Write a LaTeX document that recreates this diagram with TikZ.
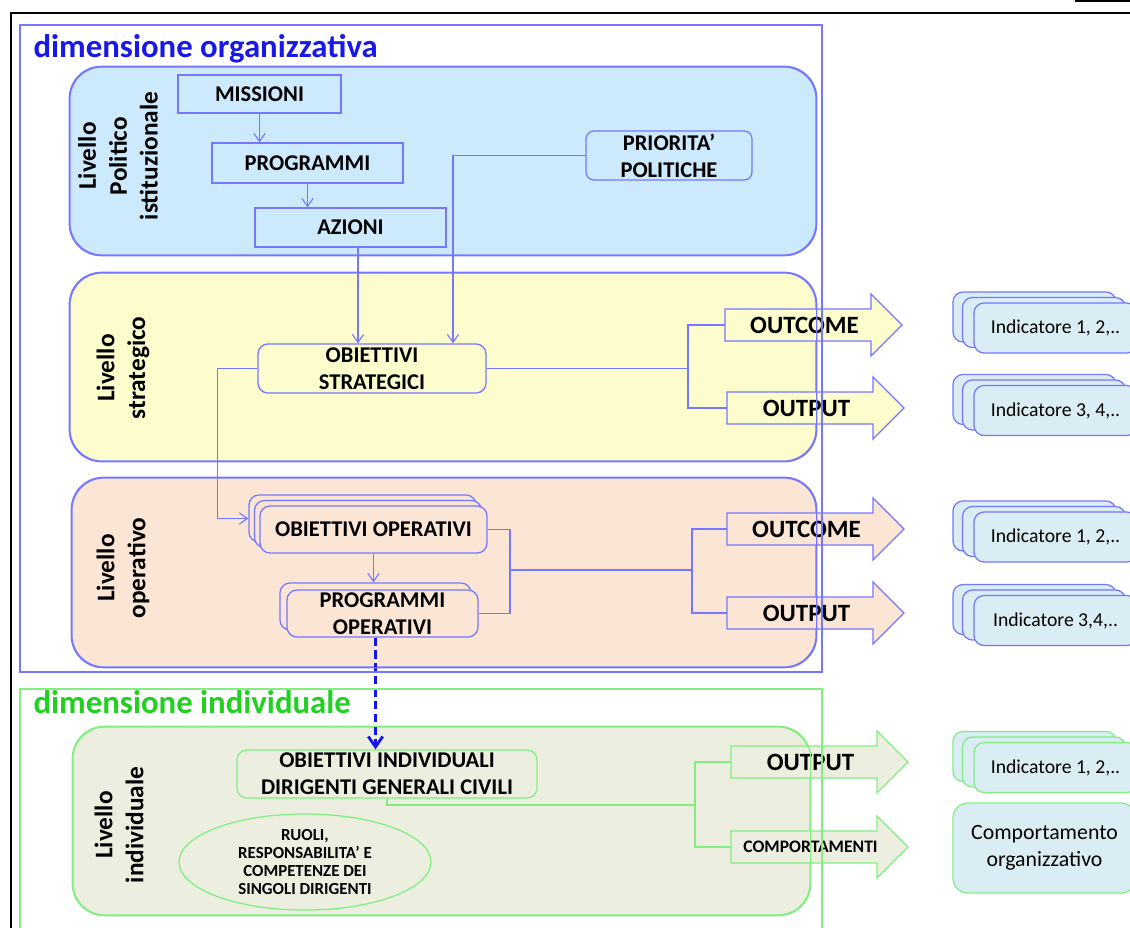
\documentclass[tikz,border=0pt]{standalone}
\usepackage{fontspec}
\setmainfont{Carlito}
\usetikzlibrary{positioning,calc,arrows.meta,shapes.geometric}

\definecolor{bluln}{RGB}{118,118,255}
\definecolor{grnln}{RGB}{130,238,130}
\definecolor{ttlblue}{RGB}{24,24,232}
\definecolor{ttlgreen}{RGB}{34,208,34}
\definecolor{dshblue}{RGB}{20,20,240}
\definecolor{lvlone}{RGB}{204,234,252}
\definecolor{lvltwo}{RGB}{253,252,204}
\definecolor{lvlthree}{RGB}{251,230,214}
\definecolor{lvlfour}{RGB}{236,238,224}
\definecolor{indfill}{RGB}{218,236,244}

\newcommand\ftitle{\fontsize{23.3}{27}\selectfont\bfseries}
\newcommand\fbx{\fontsize{16}{19.2}\selectfont\bfseries}
\newcommand\farr{\fontsize{17.7}{20}\selectfont\bfseries}
\newcommand\flvl{\fontsize{18}{22}\selectfont\bfseries}
\newcommand\find{\fontsize{14}{17}\selectfont}
\newcommand\fcomp{\fontsize{15.5}{19}\selectfont}
\newcommand\fell{\fontsize{12}{12.6}\selectfont\bfseries}
\newcommand\fsmall{\fontsize{12.5}{14}\selectfont\bfseries}

% big outline arrow: style, name, tail x, y, text
\newcommand\bigarrow[5]{%
  \draw[#1] (#3,#4-16) -- (#3+146,#4-16) -- (#3+146,#4-31) -- (#3+177,#4)
    -- (#3+146,#4+31) -- (#3+146,#4+16) -- (#3,#4+16) -- cycle;
  \coordinate (#2-t) at (#3,#4);
  \node[alab] (#2) at (#3+79.5,#4) {#5};}

% stack of three indicator cards: border colour, name, y, text
\newcommand\indstack[4]{%
  \node[ind, draw=#1] at (1034.5,#3-11) {};
  \node[ind, draw=#1] at (1044,#3-5.5) {};
  \node[ind, draw=#1] (#2) at (1055.5,#3) {#4};}

\begin{document}
\begin{tikzpicture}[x=0.025cm, y=-0.025cm, line width=0.8pt,
    >={Straight Barb[length=2mm,width=2.8mm]},
    lvl/.style={rectangle, rounded corners=0.8cm, line width=0.9pt, inner sep=0pt},
    box/.style={rectangle, draw=bluln, line width=0.9pt, inner sep=0pt, align=center, font=\fbx},
    rbox/.style={box, rounded corners=0.25cm},
    lbl/.style={rotate=90, align=center, font=\flvl},
    ind/.style={rectangle, rounded corners=0.25cm, fill=indfill, line width=0.9pt,
      minimum width=4.075cm, minimum height=1.25cm, font=\find},
    alab/.style={font=\farr, inner sep=0pt},
    dsh/.style={draw=dshblue, line width=2pt, dash pattern=on 6pt off 3pt}]
  \useasboundingbox (0,0) rectangle (1130,927);

  % page edge
  \draw[line width=2pt] (1130,13) -- (11,13) -- (11,935);
  \draw[line width=1pt] (1075,1) -- (1130,1);

  % levels
  \node[lvl, draw=bluln, fill=lvlone, minimum width=18.65cm, minimum height=4.7cm] (l1) at (443,161) {};
  \node[lvl, draw=bluln, fill=lvltwo, minimum width=18.65cm, minimum height=4.7cm] (l2) at (443,367) {};
  \node[lvl, draw=bluln, fill=lvlthree, minimum width=18.6cm, minimum height=4.725cm] (l3) at (444,572.5) {};
  \node[lvl, draw=grnln, fill=lvlfour, minimum width=18.425cm, minimum height=4.7cm] (l4) at (441.5,821) {};

  \node[anchor=base west, inner sep=0pt, font=\ftitle, text=ttlblue] (tdo) at (33,57) {dimensione organizzativa};
  \node[anchor=base west, inner sep=0pt, font=\ftitle, text=ttlgreen] (tdi) at (33,713) {dimensione individuale};

  \node[lbl] (l1t) at (118,156) {Livello\\Politico\\istituzionale};
  \node[lbl] (l2t) at (123,368) {Livello\\strategico};
  \node[lbl] (l3t) at (123,568) {Livello\\operativo};
  \node[lbl] (l4t) at (119,825) {Livello\\individuale};

  % political level
  \node[box, fill=lvlone, minimum width=4.075cm, minimum height=0.95cm] (miss) at (259.5,94) {MISSIONI};
  \node[box, fill=lvlone, minimum width=4.775cm, minimum height=1cm] (prog) at (307.5,163) {PROGRAMMI};
  \node[box, fill=lvlone, minimum width=4.775cm, minimum height=0.975cm] (az) at (350.5,227.5) {AZIONI};
  \node[rbox, rounded corners=0.2cm, fill=lvlone, minimum width=4.15cm, minimum height=1.225cm] (pri) at (669,155.5) {PRIORITA’\\POLITICHE};

  % strategic level
  \node[rbox, fill=lvltwo, minimum width=5.7cm, minimum height=1.225cm] (ost) at (372,368.5) {OBIETTIVI\\STRATEGICI};

  % operative level
  \node[rbox, fill=lvlthree, minimum width=5.675cm, minimum height=1.175cm] (obopb) at (362.5,518.5) {};
  \node[rbox, fill=lvlthree, minimum width=5.675cm, minimum height=1.175cm] at (368,524) {};
  \node[rbox, fill=lvlthree, minimum width=5.675cm, minimum height=1.175cm] (obop) at (373.5,529.5) {OBIETTIVI OPERATIVI};
  \node[rbox, fill=lvlthree, minimum width=4.775cm, minimum height=1.175cm] (propb) at (375.5,606.5) {};
  \node[rbox, fill=lvlthree, minimum width=4.775cm, minimum height=1.175cm] (prop) at (382.5,613.5) {PROGRAMMI\\OPERATIVI};

  % individual level
  \node[rbox, draw=grnln, fill=lvlfour, minimum width=7.5cm, minimum height=1.2cm] (obind) at (387,774) {OBIETTIVI INDIVIDUALI\\DIRIGENTI GENERALI CIVILI};
  \node[ellipse, draw=grnln, fill=lvlfour, line width=0.9pt, inner sep=0pt, align=center, font=\fell,
    minimum width=6.3cm, minimum height=2.4cm] (ruoli) at (305,862) {RUOLI,\\RESPONSABILITA’ E\\COMPETENZE DEI\\SINGOLI DIRIGENTI};

  % connectors
  \draw[bluln, ->] (miss.south) -- (miss.south |- prog.north);
  \draw[bluln, ->] (prog.south) -- (prog.south |- az.north);
  \draw[bluln, ->] ($(az.south)+(7.5,0)$) -- ($(az.south |- ost.north)+(7.5,0)$);
  \draw[bluln, ->] (pri.west) -| ($(ost.north)+(81,0)$);
  \draw[bluln, ->] (ost.west) -- ++(-40,0) |- (obopb.west);
  \draw[bluln, ->] (obop.south) -- ($(obop.south |- prop.north)+(0,-7)$);

  \coordinate (jst) at (688,368.5);
  \coordinate (jop) at (510,570);
  \coordinate (jop2) at (692,570);
  \coordinate (jind) at (695,805);
  \draw[bluln] (ost.east) -- (jst);
  \draw[bluln] (obop.east) -| (jop) |- (prop.east);
  \draw[bluln] (jop) -- (jop2);
  \draw[grnln] (obind.south) |- (jind);

  \draw[dsh, -{Straight Barb[length=2.6mm,width=3.6mm]}] (propb.south |- prop.south) -- (propb.south |- obind.north);

  % outcome / output arrows
  \bigarrow{draw=bluln, fill=lvltwo, line width=0.9pt}{oc1}{725}{325}{OUTCOME}
  \bigarrow{draw=bluln, fill=lvltwo, line width=0.9pt}{op1}{727}{408}{OUTPUT}
  \bigarrow{draw=bluln, fill=lvlthree, line width=0.9pt}{oc2}{727}{529}{OUTCOME}
  \bigarrow{draw=bluln, fill=lvlthree, line width=0.9pt}{op2}{727}{613}{OUTPUT}
  \bigarrow{draw=grnln, fill=lvlfour, line width=0.9pt}{op3}{731}{762}{OUTPUT}
  \bigarrow{draw=grnln, fill=lvlfour, line width=0.9pt}{cp}{731}{847}{\fsmall COMPORTAMENTI}

  \draw[bluln] (oc1-t) -| (jst) |- (op1-t);
  \draw[bluln] (oc2-t) -| (jop2) |- (op2-t);
  \draw[grnln] (op3-t) -| (jind) |- (cp-t);

  % outlines and frames over the arrows
  \foreach \n in {l1,l2,l3}
    \draw[bluln, line width=0.9pt, rounded corners=0.8cm] (\n.north west) rectangle (\n.south east);
  \draw[grnln, line width=0.9pt, rounded corners=0.8cm] (l4.north west) rectangle (l4.south east);
  \draw[bluln, line width=0.9pt] (20,25) rectangle (822,672);
  \draw[grnln, line width=0.9pt] (20,940) -- (20,689) -- (822,689) -- (822,940);

  % indicators
  \indstack{bluln}{ind1}{328}{Indicatore 1, 2,..}
  \indstack{bluln}{ind2}{410.5}{Indicatore 3, 4,..}
  \indstack{bluln}{ind3}{537}{Indicatore 1, 2,..}
  \indstack{bluln}{ind4}{620.5}{Indicatore 3,4,..}
  \indstack{grnln}{ind5}{767.5}{Indicatore 1, 2,..}
  \node[ind, draw=grnln, rounded corners=0.375cm, minimum width=4.575cm, minimum height=2.25cm,
    align=center, font=\fcomp] (comp) at (1044.5,848) {Comportamento\\organizzativo};
\end{tikzpicture}
\end{document}
